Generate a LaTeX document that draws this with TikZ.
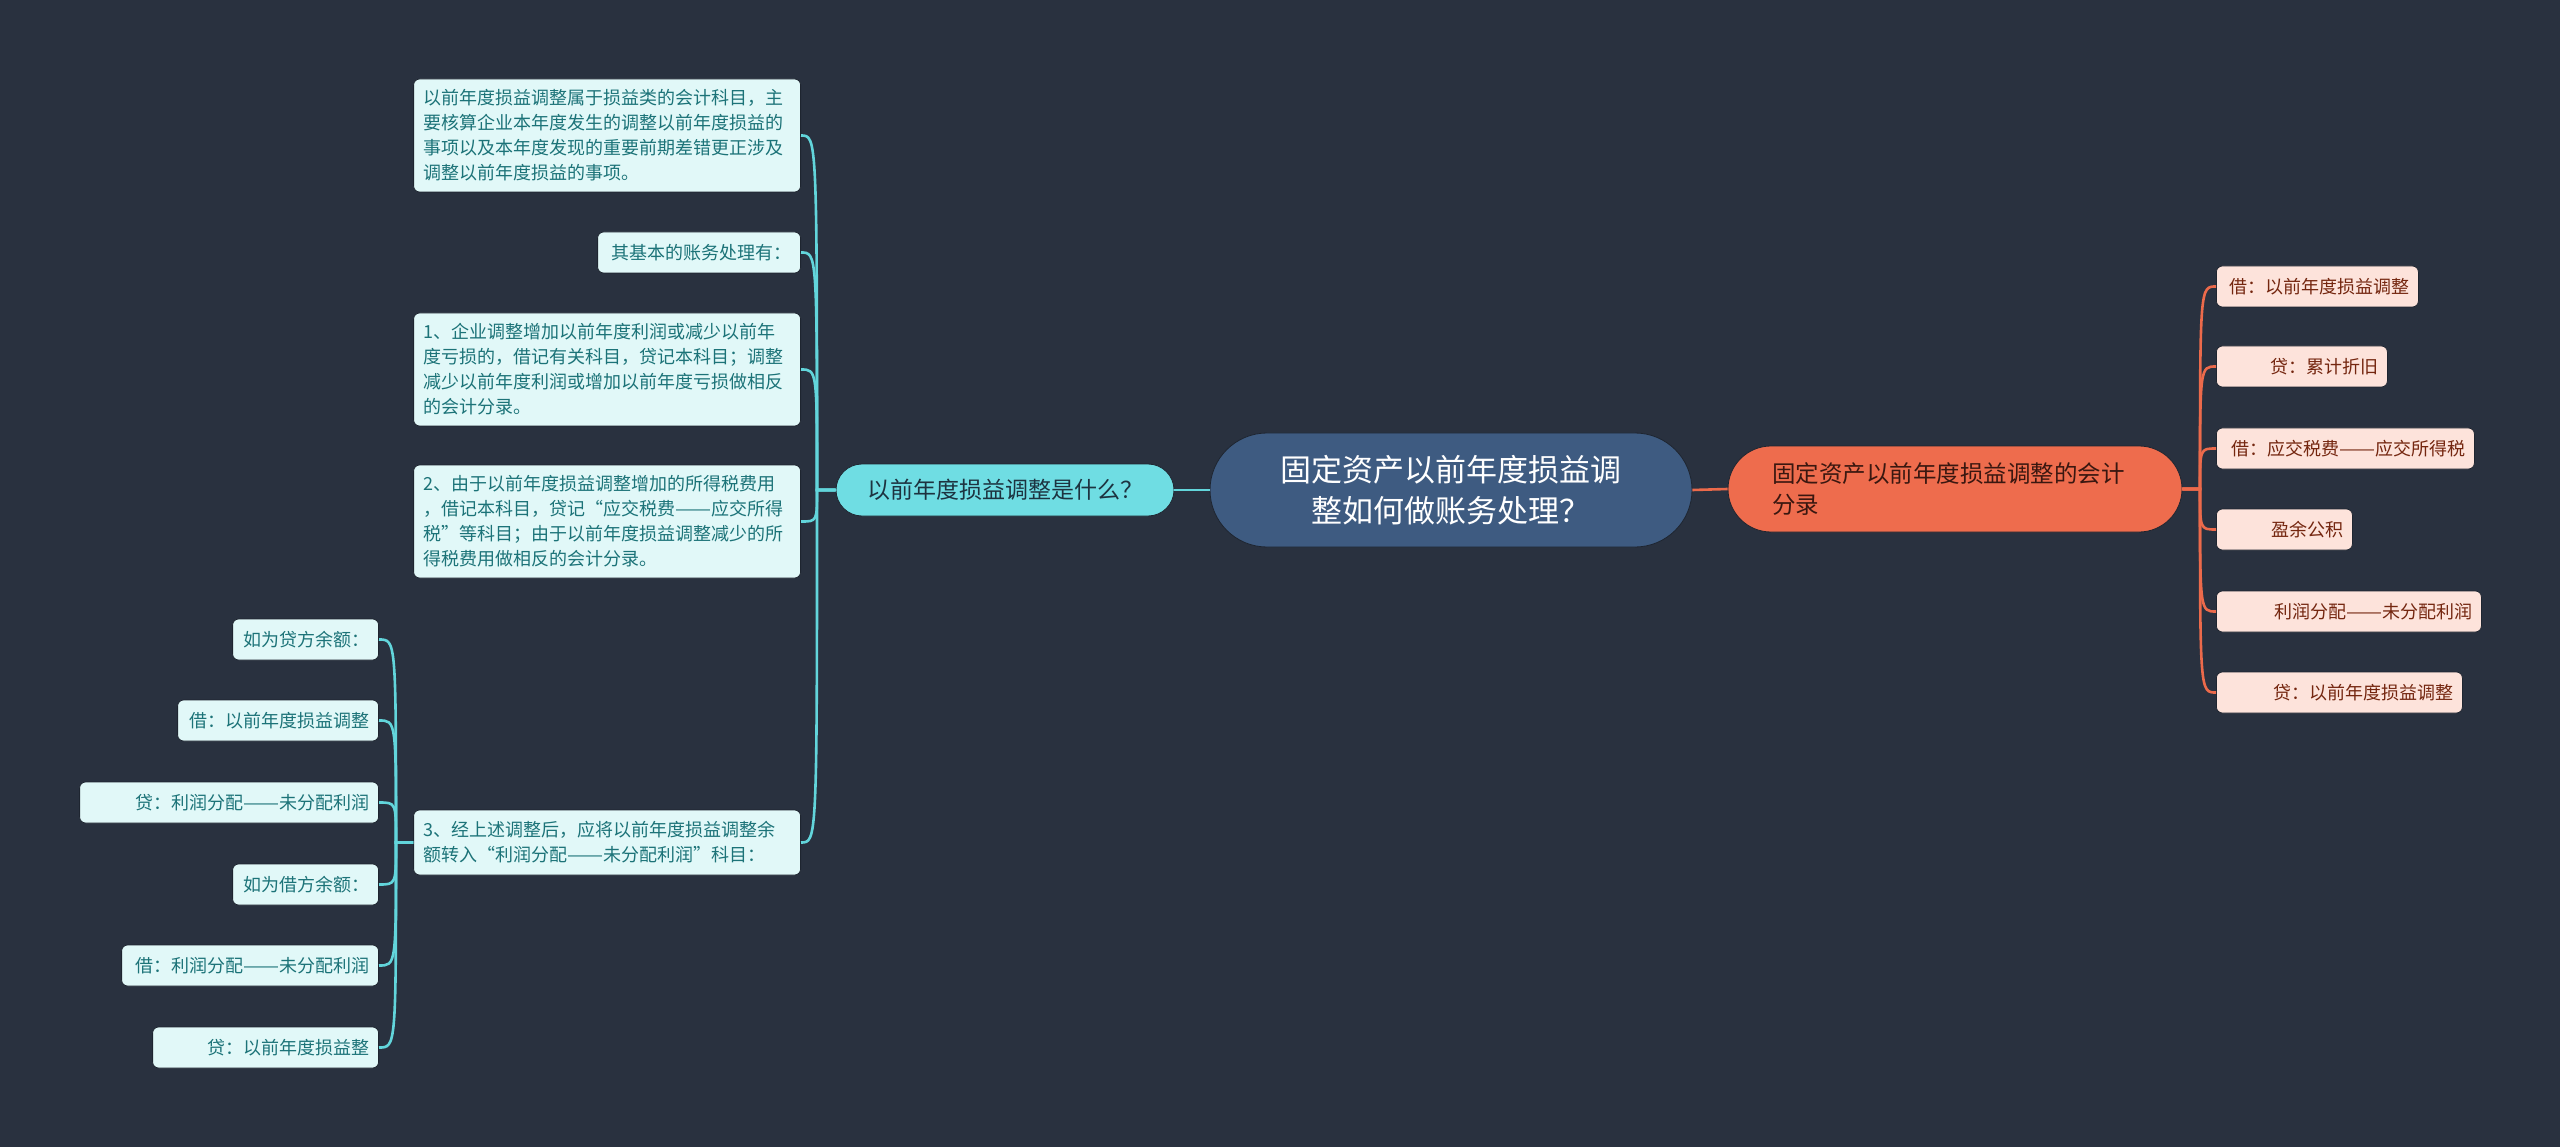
\documentclass[tikz,border=0pt]{standalone}
\usepackage{fontspec}
\usepackage{graphicx}
\setmainfont{Noto Sans CJK SC}
\newcommand\wdash{\resizebox{2em}{\height}{——}}
\definecolor{bg}{HTML}{29313F}
\definecolor{cfill}{HTML}{3E5B81}
\definecolor{lbfill}{HTML}{6FDDE3}
\definecolor{lbtext}{HTML}{1D3340}
\definecolor{llfill}{HTML}{E1F8F8}
\definecolor{lltext}{HTML}{1C7378}
\definecolor{rbfill}{HTML}{EE6C4D}
\definecolor{rbtext}{HTML}{3A1710}
\definecolor{rlfill}{HTML}{FDE3DB}
\definecolor{rltext}{HTML}{74260F}
\definecolor{lline}{HTML}{62D5DB}
\definecolor{rline}{HTML}{EC6A4B}
\definecolor{edge}{HTML}{1E2530}
\tikzset{
  base/.style={draw=edge, line width=0.8pt, inner ysep=0pt},
  leafl/.style={base, fill=llfill, text=lltext, rounded corners=6pt, inner xsep=9pt,
    font=\fontsize{18}{25}\selectfont, align=right, anchor=east, minimum height=41pt},
  parl/.style={base, fill=llfill, text=lltext, rounded corners=6pt, inner xsep=10pt,
    font=\fontsize{18}{25}\selectfont, align=left, anchor=east, text width=367pt},
  leafr/.style={base, fill=rlfill, text=rltext, rounded corners=6pt, inner xsep=9pt,
    font=\fontsize{18}{25}\selectfont, align=right, anchor=west, minimum height=41pt},
  lconn/.style={draw=lline, line width=2.6pt},
  rconn/.style={draw=rline, line width=2.6pt}
}
\begin{document}
\begin{tikzpicture}[x=1pt,y=-1pt]
\fill[bg] (0,0) rectangle (2560,1147);
\useasboundingbox (0,0) rectangle (2560,1147);

% central
\node[base, fill=cfill, text=white, rounded corners=57pt, minimum width=482pt, minimum height=114pt,
  font=\fontsize{31}{41}\selectfont, align=center, inner xsep=0pt] (c) at (1451,490)
  {固定资产以前年度损益调\\整如何做账务处理？};

% left branch
\node[base, fill=lbfill, text=lbtext, rounded corners=26pt, minimum width=338pt, minimum height=52pt,
  font=\fontsize{23}{28}\selectfont, inner xsep=0pt] (lb) at (1005,490) {以前年度损益调整是什么？};

% right branch
\node[base, fill=rbfill, text=rbtext, rounded corners=43pt, minimum height=86pt, inner xsep=44pt,
  text width=366pt, align=left, font=\fontsize{23.5}{31}\selectfont] (rb) at (1955,489)
  {固定资产以前年度损益调整的会计\\分录};

% left leaves
\node[parl, minimum height=113pt] (l1) at (801,135.5)
  {以前年度损益调整属于损益类的会计科目，主\\要核算企业本年度发生的调整以前年度损益的\\事项以及本年度发现的重要前期差错更正涉及\\调整以前年度损益的事项。};
\node[leafl, text width=185pt] (l2) at (801,252.5) {其基本的账务处理有：};
\node[parl, minimum height=113pt] (l3) at (801,369.5)
  {1、企业调整增加以前年度利润或减少以前年\\度亏损的，借记有关科目，贷记本科目；调整\\减少以前年度利润或增加以前年度亏损做相反\\的会计分录。};
\node[parl, minimum height=113pt] (l4) at (801,521.5)
  {2、由于以前年度损益调整增加的所得税费用\\，借记本科目，贷记“应交税费\wdash 应交所得\\税”等科目；由于以前年度损益调整减少的所\\得税费用做相反的会计分录。};
\node[parl, minimum height=65pt] (l5) at (801,842.5)
  {3、经上述调整后，应将以前年度损益调整余\\额转入“利润分配\wdash 未分配利润”科目：};

% sub leaves
\node[leafl, text width=128pt] (s1) at (379,639.5) {如为贷方余额：};
\node[leafl, text width=183pt] (s2) at (379,720.5) {借：以前年度损益调整};
\node[leafl, text width=281pt] (s3) at (379,802.5) {贷：利润分配\wdash 未分配利润};
\node[leafl, text width=128pt] (s4) at (379,884.5) {如为借方余额：};
\node[leafl, text width=239pt] (s5) at (379,965.5) {借：利润分配\wdash 未分配利润};
\node[leafl, text width=208pt] (s6) at (379,1047.5) {贷：以前年度损益整};

% right leaves
\node[leafr, text width=184pt] (r1) at (2216,286.5) {借：以前年度损益调整};
\node[leafr, text width=153pt] (r2) at (2216,366.5) {贷：累计折旧};
\node[leafr, text width=240pt] (r3) at (2216,448.5) {借：应交税费\wdash 应交所得税};
\node[leafr, text width=118pt] (r4) at (2216,529.5) {盈余公积};
\node[leafr, text width=247pt] (r5) at (2216,611.5) {利润分配\wdash 未分配利润};
\node[leafr, text width=228pt] (r6) at (2216,692.5) {贷：以前年度损益调整};

% connectors
\draw[lconn] (c.west) -- (lb.east);
\draw[rconn] (c.east) -- (rb.west);

\coordinate (lsp) at (817,490);
\foreach \n in {l1,l2,l3,l4,l5}
  \draw[lconn] (lb.west) -- (lsp) .. controls (lsp |- \n.east) and (lsp |- \n.east) .. (\n.east);

\coordinate (ssp) at (396,842.5);
\foreach \n in {s1,s2,s3,s4,s5,s6}
  \draw[lconn] (l5.west) -- (ssp) .. controls (ssp |- \n.east) and (ssp |- \n.east) .. (\n.east);

\coordinate (rsp) at (2200,489);
\foreach \n in {r1,r2,r3,r4,r5,r6}
  \draw[rconn] (rb.east) -- (rsp) .. controls (rsp |- \n.west) and (rsp |- \n.west) .. (\n.west);
\end{tikzpicture}
\end{document}
